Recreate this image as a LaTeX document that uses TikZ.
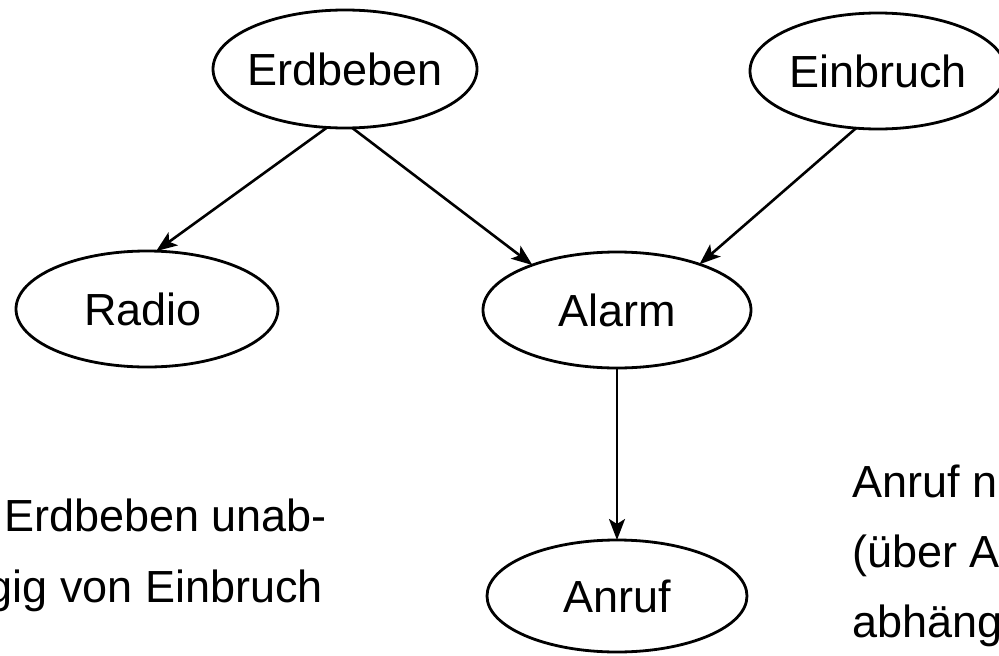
\documentclass[tikz,border=0pt]{standalone}
\usepackage{fontspec}
\setmainfont{Liberation Sans}
\usetikzlibrary{arrows.meta,shapes.geometric}
\begin{document}
\begin{tikzpicture}[x=1pt,y=-1pt,
  every node/.style={font=\fontsize{45}{54}\selectfont},
  var/.style={draw, ellipse, line width=2.8pt, inner sep=0pt, outer sep=0pt},
  link/.style={line width=2.6pt, -{Stealth[length=21pt,width=16pt,inset=5pt]}},
  note/.style={inner sep=0pt}]
  \useasboundingbox (0,0) rectangle (999,656);
  \clip (0,0) rectangle (999,656);

  % variables of the network
  \node[var, minimum width=264pt, minimum height=118pt] (erd) at (345,69) {\makebox[0pt]{Erdbeben}};
  \node[var, minimum width=256pt, minimum height=116pt] (ein) at (878,71) {\makebox[0pt]{Einbruch}};
  \node[var, minimum width=262pt, minimum height=116pt] (radio) at (147,309) {\makebox[0pt][r]{\makebox[0pt]{Radio}\hspace*{4pt}}};
  \node[var, minimum width=268pt, minimum height=116pt] (alarm) at (617,310) {\makebox[0pt]{Alarm}};
  \node[var, minimum width=260pt, minimum height=112pt] (anruf) at (617,596) {\makebox[0pt]{Anruf}};

  % dependencies
  \draw[link] (erd.253) -- (radio.81);
  \draw[link] (erd.277) -- (alarm.152);
  \draw[link] (ein.249) -- (alarm.29);
  \draw[link] (alarm.south) -- (anruf.north);

  % remarks
  \node[note, anchor=base west] (l1) at (4,531) {Erdbeben unab-};
  \node[note, anchor=base east] (l2) at (323,602) {gig von Einbruch};
  \node[note, anchor=base west] (r1) at (852,497) {Anruf n};
  \node[note, anchor=base west] (r2) at (852,567) {(über A};
  \node[note, anchor=base west] (r3) at (852,637) {abhäng};
\end{tikzpicture}
\end{document}
